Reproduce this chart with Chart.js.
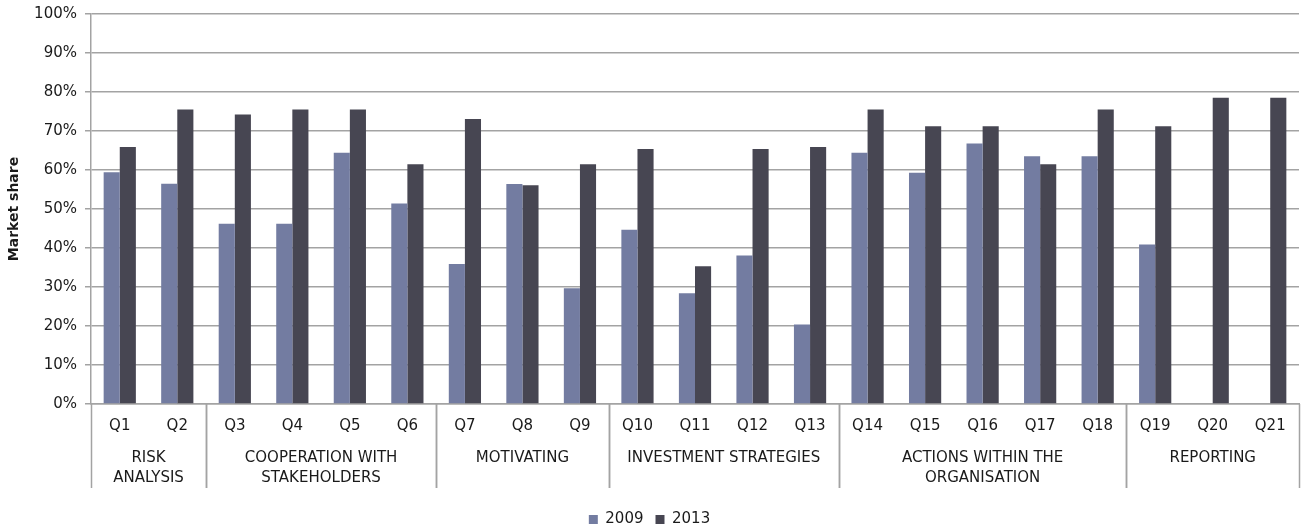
<!DOCTYPE html>
<html>
<head>
<meta charset="utf-8">
<script src="https://cdn.jsdelivr.net/npm/chart.js@4.4.1/dist/chart.umd.min.js"></script>
<style>
html, body { margin: 0; padding: 0; background: #fff; }
#wrap { width: 1302px; height: 529px; position: relative; }
</style>
</head>
<body>
<div id="wrap"><canvas id="chart"></canvas></div>
<script>
var questions = ['Q1','Q2','Q3','Q4','Q5','Q6','Q7','Q8','Q9','Q10','Q11','Q12','Q13','Q14','Q15','Q16','Q17','Q18','Q19','Q20','Q21'];
var share2009 = [59.4, 56.5, 46.2, 46.2, 64.4, 51.4, 35.9, 56.4, 29.7, 44.7, 28.4, 38.1, 20.4, 64.4, 59.3, 66.8, 63.5, 63.5, 40.9, null, null];
var share2013 = [65.9, 75.5, 74.2, 75.5, 75.5, 61.5, 73.1, 56.1, 61.5, 65.4, 35.3, 65.4, 65.9, 75.5, 71.2, 71.2, 61.5, 75.5, 71.2, 78.5, 78.5];
var groupNames = [['RISK', 'ANALYSIS'], ['COOPERATION WITH', 'STAKEHOLDERS'], ['MOTIVATING'], ['INVESTMENT STRATEGIES'], ['ACTIONS WITHIN THE', 'ORGANISATION'], ['REPORTING']];
var groupSizes = [2, 4, 3, 4, 5, 3];

var FONT = 'DejaVu Sans';
var gridColor = '#a3a3a3';

// draws the second row of the category axis (group names + separators)
var groupAxis = {
  id: 'groupAxis',
  afterDraw: function (chart) {
    var x = chart.scales.x;
    var ctx = chart.ctx;
    var area = chart.chartArea;
    var w = x.getPixelForValue(1) - x.getPixelForValue(0);
    var top = area.bottom, bottom = area.bottom + 84;
    ctx.save();
    ctx.strokeStyle = gridColor;
    ctx.lineWidth = 1.5;
    ctx.font = '15px "' + FONT + '"';
    ctx.fillStyle = '#1a1a1a';
    ctx.textAlign = 'center';
    ctx.textBaseline = 'middle';
    var start = 0;
    for (var g = 0; g < groupSizes.length; g++) {
      var end = start + groupSizes[g] - 1;
      var left = x.getPixelForValue(start) - w / 2;
      var right = x.getPixelForValue(end) + w / 2;
      [left, right].forEach(function (px) {
        ctx.beginPath();
        ctx.moveTo(Math.round(px) + 0.5, top);
        ctx.lineTo(Math.round(px) + 0.5, bottom);
        ctx.stroke();
      });
      var lines = groupNames[g];
      for (var i = 0; i < lines.length; i++) {
        ctx.fillText(lines[i], (left + right) / 2, top + 54 + i * 20);
      }
      start = end + 1;
    }
    ctx.restore();
  }
};

new Chart(document.getElementById('chart'), {
  type: 'bar',
  data: {
    labels: questions,
    datasets: [{
      label: '2009',
      data: share2009,
      backgroundColor: '#737ca1',
      borderWidth: 0
    },
    {
      label: '2013',
      data: share2013,
      backgroundColor: '#474652',
      borderWidth: 0
    }]
  },
  options: {
    responsive: true,
    maintainAspectRatio: false,
    animation: false,
    layout: { padding: { top: 14, right: 3, left: 0, bottom: -8 } },
    datasets: { bar: { categoryPercentage: 0.56, barPercentage: 1.0 } },
    scales: {
      x: {
        grid: { display: false, drawTicks: false },
        border: { color: gridColor, width: 1.5 },
        ticks: { color: '#1a1a1a', font: { family: FONT, size: 15 }, padding: 13, maxRotation: 0, autoSkip: false },
        afterFit: function (s) { s.height = 96; }
      },
      y: {
        min: 0,
        max: 100,
        ticks: {
          stepSize: 10,
          color: '#1a1a1a',
          font: { family: FONT, size: 15 },
          padding: 8,
          callback: function (v) { return v + '%'; }
        },
        grid: { color: gridColor, lineWidth: 1.5, tickLength: 6 },
        border: { color: gridColor, width: 1.5 },
        title: { display: true, text: 'Market share', color: '#1a1a1a', font: { family: FONT, size: 14, weight: 'bold' }, padding: { top: 6, bottom: 0 } },
        afterFit: function (s) { s.width = 91; s.paddingTop = 4; s.paddingBottom = 0; }
      }
    },
    plugins: {
      legend: {
        position: 'bottom',
        labels: { color: '#1a1a1a', font: { family: FONT, size: 15 }, boxWidth: 9, boxHeight: 9, padding: 12 }
      },
      tooltip: { enabled: false }
    }
  },
  plugins: [groupAxis]
});
</script>
</body>
</html>
